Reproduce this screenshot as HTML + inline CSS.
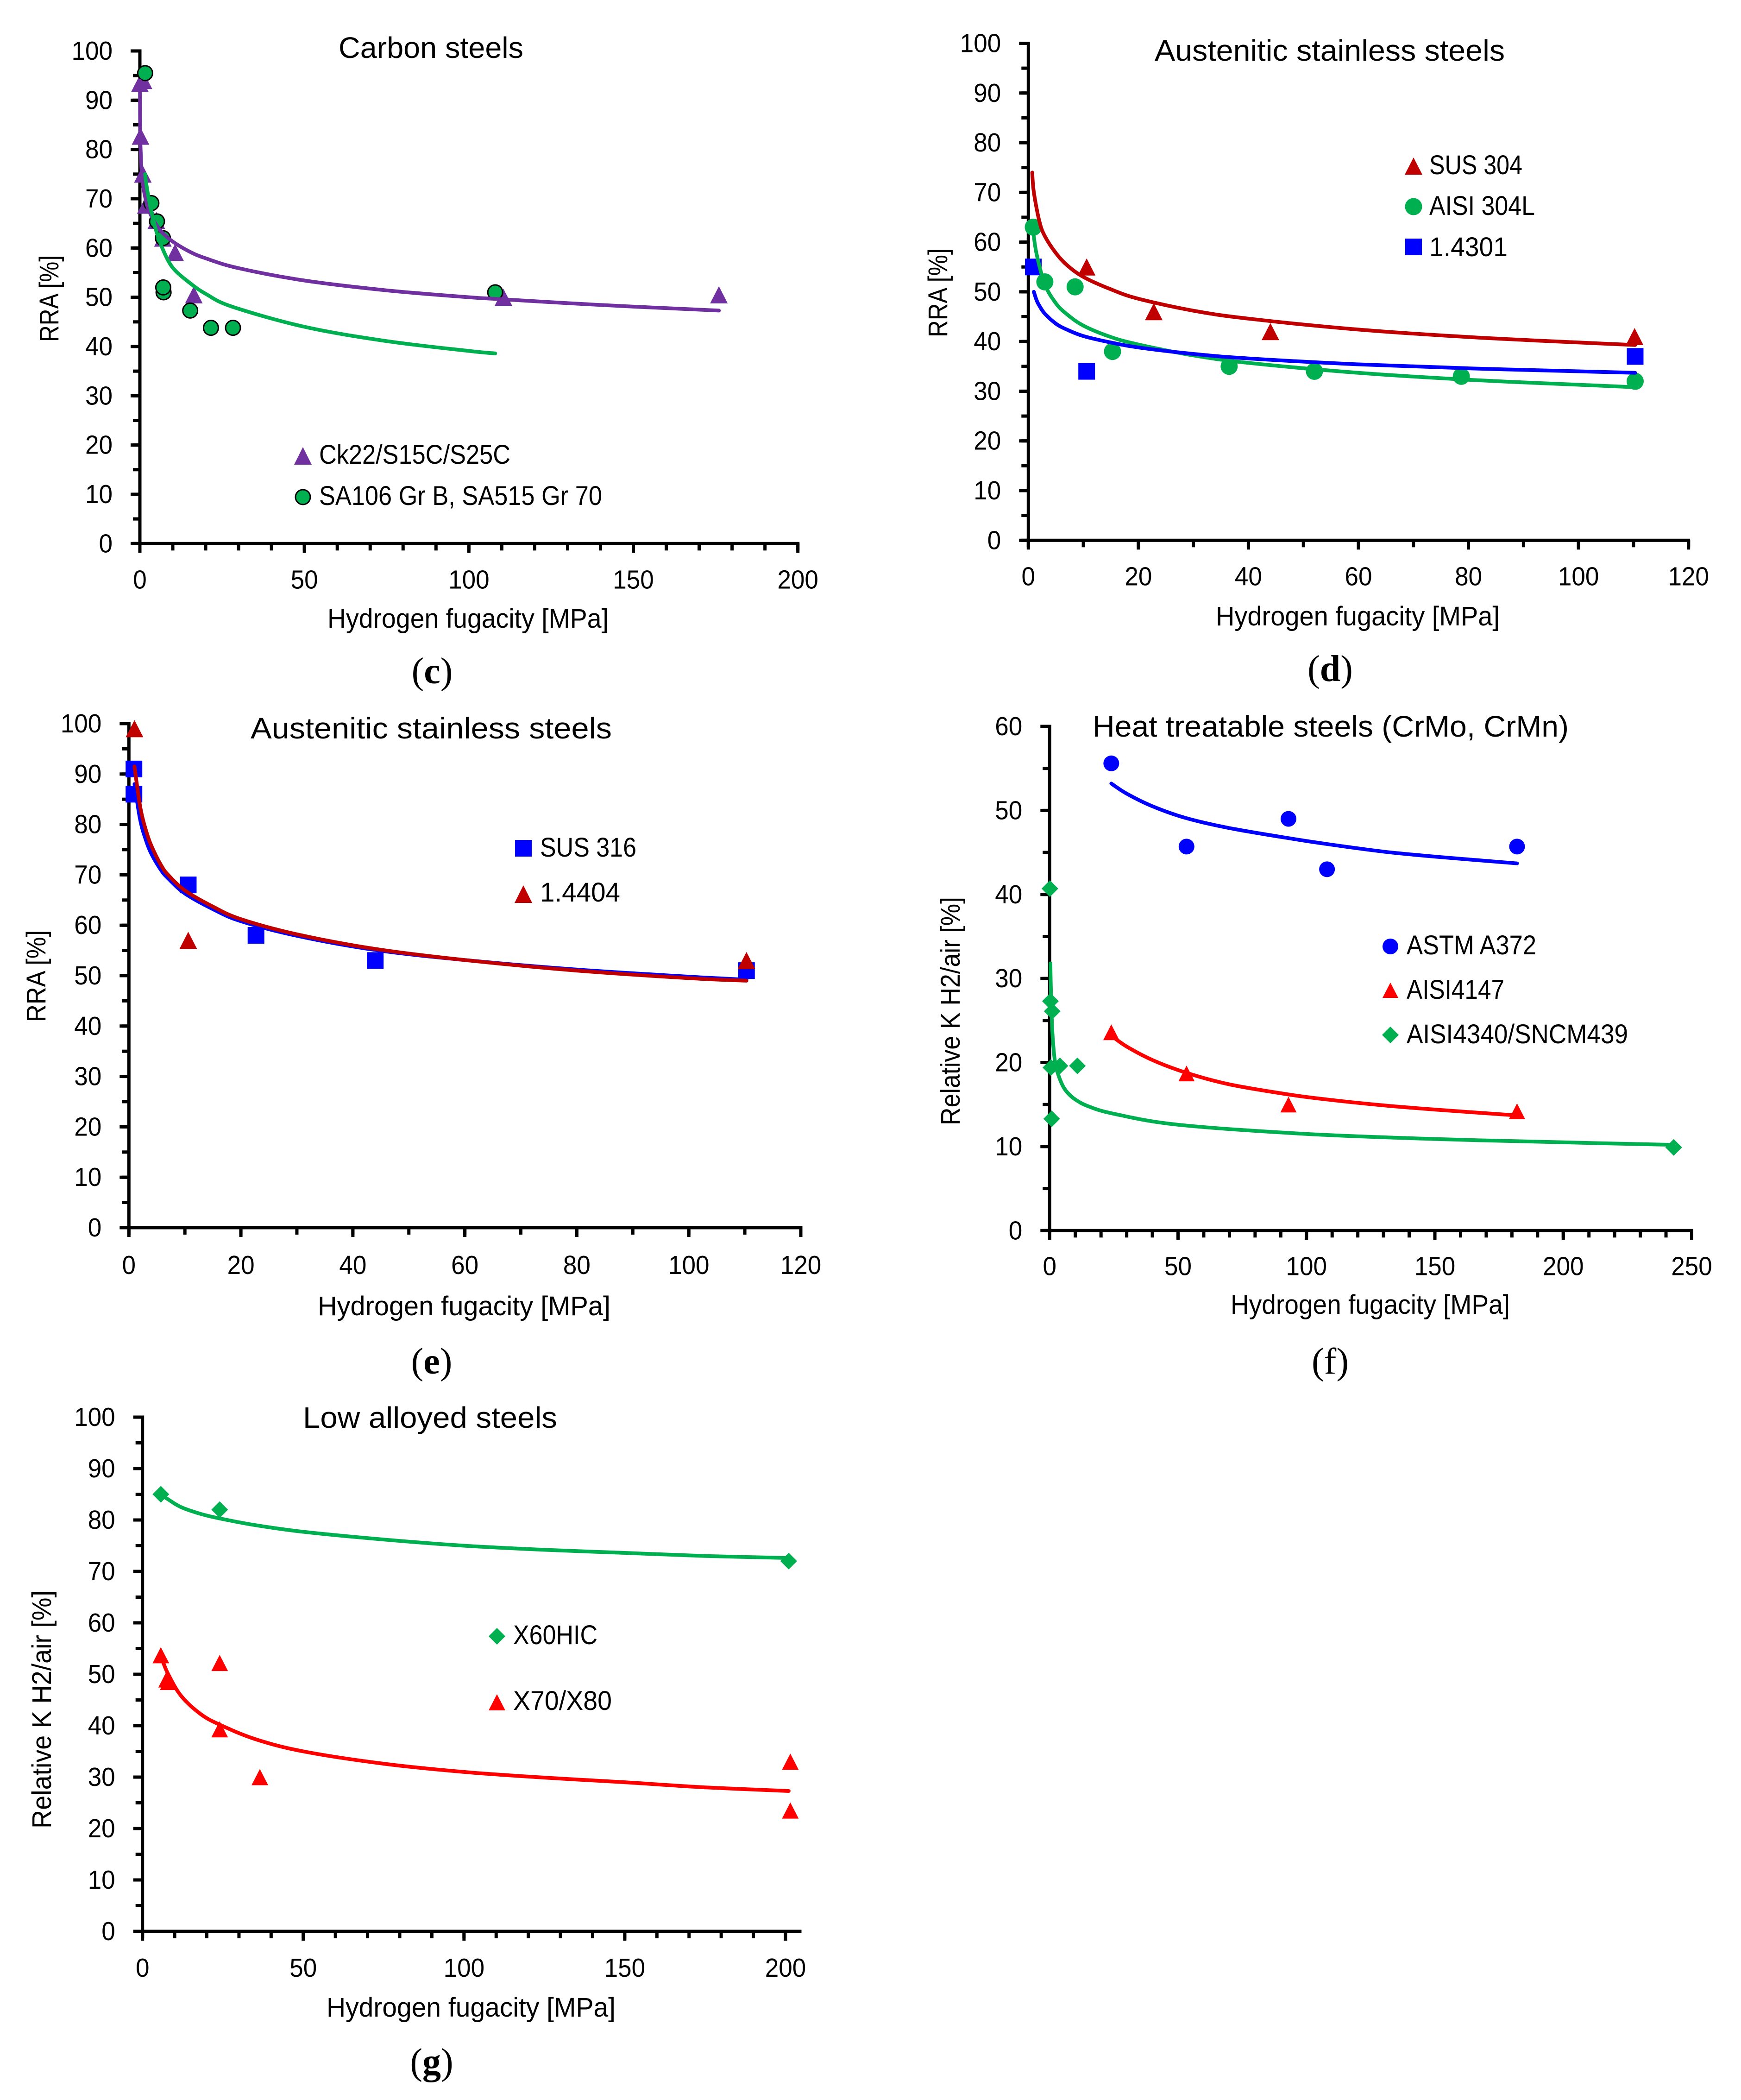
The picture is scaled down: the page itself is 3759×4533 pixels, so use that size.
<!DOCTYPE html>
<html lang="en">
<head>
<meta charset="utf-8">
<title>Hydrogen fugacity charts</title>
<style>
html,body{margin:0;padding:0;background:#fff;}
svg{display:block;}
text{font-family:"Liberation Sans",sans-serif;fill:#000;}
.ttl{font-size:64px;}
.lab{font-size:58px;}
.ylab{font-size:58px;}
.leg{font-size:58px;}
.cap{font-family:"Liberation Serif",serif;font-size:80px;text-anchor:middle;}
.cap tspan{font-family:"Liberation Serif",serif;font-weight:bold;}
</style>
</head>
<body>
<svg xmlns="http://www.w3.org/2000/svg" width="3759" height="4533" viewBox="0 0 3759 4533">
<rect x="0" y="0" width="3759" height="4533" fill="#ffffff"/>

<g id="panel-c">
  <text class="ttl" x="731" y="125" textLength="399" lengthAdjust="spacingAndGlyphs">Carbon steels</text>
  <text class="lab" x="707" y="1355" textLength="607" lengthAdjust="spacingAndGlyphs">Hydrogen fugacity [MPa]</text>
  <text class="ylab" transform="translate(126,738) rotate(-90)" textLength="187" lengthAdjust="spacingAndGlyphs">RRA [%]</text>
  <g>
    <polygon points="654,965 673,1003 635,1003" fill="#7030a0"/>
    <text class="leg" x="689" y="1001" textLength="413" lengthAdjust="spacingAndGlyphs">Ck22/S15C/S25C</text>
    <circle cx="654" cy="1073" r="16" fill="#00b050" stroke="#000" stroke-width="3"/>
    <text class="leg" x="689" y="1090" textLength="611" lengthAdjust="spacingAndGlyphs">SA106 Gr B, SA515 Gr 70</text>
  </g>
  <text class="cap" x="933" y="1475">(<tspan>c</tspan>)</text>
</g>

<g id="panel-d">
  <text class="ttl" x="2493" y="131" textLength="756" lengthAdjust="spacingAndGlyphs">Austenitic stainless steels</text>
  <text class="lab" x="2625" y="1350" textLength="613" lengthAdjust="spacingAndGlyphs">Hydrogen fugacity [MPa]</text>
  <text class="ylab" transform="translate(2045,728) rotate(-90)" textLength="192" lengthAdjust="spacingAndGlyphs">RRA [%]</text>
  <g>
    <polygon points="3052,340 3071,377 3033,377" fill="#c00000"/>
    <text class="leg" x="3086" y="376" textLength="201" lengthAdjust="spacingAndGlyphs">SUS 304</text>
    <circle cx="3052" cy="446" r="18.5" fill="#00b050"/>
    <text class="leg" x="3086" y="464" textLength="228" lengthAdjust="spacingAndGlyphs">AISI 304L</text>
    <rect x="3034" y="515" width="36" height="36" fill="#0000ff"/>
    <text class="leg" x="3086" y="553" textLength="169" lengthAdjust="spacingAndGlyphs">1.4301</text>
  </g>
  <text class="cap" x="2872" y="1470">(<tspan>d</tspan>)</text>
</g>

<g id="panel-e">
  <text class="ttl" x="541" y="1594" textLength="780" lengthAdjust="spacingAndGlyphs">Austenitic stainless steels</text>
  <text class="lab" x="686" y="2839" textLength="632" lengthAdjust="spacingAndGlyphs">Hydrogen fugacity [MPa]</text>
  <text class="ylab" transform="translate(98,2206) rotate(-90)" textLength="198" lengthAdjust="spacingAndGlyphs">RRA [%]</text>
  <g>
    <rect x="1112" y="1813" width="36" height="36" fill="#0000ff"/>
    <text class="leg" x="1166" y="1849" textLength="208" lengthAdjust="spacingAndGlyphs">SUS 316</text>
    <polygon points="1130,1911 1149,1949 1111,1949" fill="#c00000"/>
    <text class="leg" x="1166" y="1946" textLength="173" lengthAdjust="spacingAndGlyphs">1.4404</text>
  </g>
  <text class="cap" x="932" y="2965">(<tspan>e</tspan>)</text>
</g>

<g id="panel-f">
  <text class="ttl" x="2359" y="1590" textLength="1028" lengthAdjust="spacingAndGlyphs">Heat treatable steels (CrMo, CrMn)</text>
  <text class="lab" x="2657" y="2836" textLength="603" lengthAdjust="spacingAndGlyphs">Hydrogen fugacity [MPa]</text>
  <text class="ylab" transform="translate(2072,2429) rotate(-90)" textLength="493" lengthAdjust="spacingAndGlyphs">Relative K H2/air [%]</text>
  <g>
    <circle cx="3002" cy="2043" r="17" fill="#0000ff"/>
    <text class="leg" x="3037" y="2060" textLength="280" lengthAdjust="spacingAndGlyphs">ASTM A372</text>
    <polygon points="3002,2121 3019,2154 2985,2154" fill="#ff0000"/>
    <text class="leg" x="3037" y="2156" textLength="211" lengthAdjust="spacingAndGlyphs">AISI4147</text>
    <polygon points="3002,2216 3020,2234 3002,2252 2984,2234" fill="#00b050"/>
    <text class="leg" x="3037" y="2252" textLength="478" lengthAdjust="spacingAndGlyphs">AISI4340/SNCM439</text>
  </g>
  <text class="cap" x="2872" y="2965" style="font-weight:normal">(f)</text>
</g>

<g id="panel-g">
  <text class="ttl" x="654" y="3082" textLength="549" lengthAdjust="spacingAndGlyphs">Low alloyed steels</text>
  <text class="lab" x="705" y="4353" textLength="624" lengthAdjust="spacingAndGlyphs">Hydrogen fugacity [MPa]</text>
  <text class="ylab" transform="translate(110,3947) rotate(-90)" textLength="514" lengthAdjust="spacingAndGlyphs">Relative K H2/air [%]</text>
  <g>
    <polygon points="1073,3514 1091,3532 1073,3550 1055,3532" fill="#00b050"/>
    <text class="leg" x="1108" y="3549" textLength="182" lengthAdjust="spacingAndGlyphs">X60HIC</text>
    <polygon points="1073,3657 1091,3692 1055,3692" fill="#ff0000"/>
    <text class="leg" x="1108" y="3691" textLength="213" lengthAdjust="spacingAndGlyphs">X70/X80</text>
  </g>
  <text class="cap" x="932" y="4477">(<tspan>g</tspan>)</text>
</g>
</svg>

<script>
// ---------- tick values ----------
const yTicksPercent = [0,10,20,30,40,50,60,70,80,90,100];
const yTicksRelativeK = [0,10,20,30,40,50,60];
const xTicksC = [0,50,100,150,200];
const xTicksD = [0,20,40,60,80,100,120];
const xTicksE = [0,20,40,60,80,100,120];
const xTicksF = [0,50,100,150,200,250];
const xTicksG = [0,50,100,150,200];

// ---------- panel c: carbon steels ----------
const ck22X = [0.0,1.1,0.2,0.9,1.8,5,7,10.7,16.4,110.5,176];
const ck22Y = [93.4,94,82.7,75,68.7,65.6,62,59.1,50.5,50,50.5];
const sa106X = [1.6,3.5,5.2,7,7.2,7.1,15.3,21.6,28.3,108];
const sa106Y = [95.5,69.1,65.4,62,51,52,47.3,43.8,43.8,51];
const ck22FitX = [0.02,0.05,0.1,0.2,0.5,1,2,3,5,7,10,15,20,30,50,75,100,110,130,150,176];
const ck22FitY = [94,87.3,83.9,80.5,76,72.6,69.2,67.2,64.7,63,61.3,59.3,57.9,55.9,53.4,51.4,50,49.6,48.8,48.1,47.3];
const sa106FitX = [1.6,2,3,4,5,7,10,15,20,28,50,75,100,108];
const sa106FitY = [75,72.8,69,66,63.4,59.7,56,53,50.7,48.1,44,41.1,39.1,38.6];

// ---------- panel d: austenitic steels ----------
const sus304X = [10.6,22.8,44,110.2];
const sus304Y = [55,46,42,41];
const aisi304lX = [0.9,3,8.5,15.3,36.5,52,78.7,110.3];
const aisi304lY = [63,52,51,38,35,34,33,32];
const m14301X = [0.9,10.6,110.3];
const m14301Y = [55,34,37];
const sus304FitX = [0.7,1,2,3,5,7,10,15,20,30,40,60,80,100,110.3];
const sus304FitY = [74,70,64.2,61.2,57.8,55.4,53,50.5,48.6,46.2,44.6,42.4,40.9,39.8,39.3];
const aisi304lFitX = [0.9,1.5,3,5,7,10,15,20,30,40,60,80,100,110.3];
const aisi304lFitY = [62,57.6,51.5,47.7,45.5,43.2,40.9,39.4,37.2,35.7,33.7,32.3,31.3,30.8];
const m14301FitX = [1,1.5,2,3,5,7,10,15,20,30,40,60,80,100,110.3];
const m14301FitY = [50,48.3,47.2,45.6,43.6,42.4,41.1,39.8,38.8,37.5,36.6,35.4,34.6,34,33.7];

// ---------- panel e: austenitic steels ----------
const sus316X = [0.9,0.9,10.6,22.7,44,110.3];
const sus316Y = [91,86,68,58,53,51];
const m14404X = [1,10.6,110.3];
const m14404Y = [99,57,53];
const sus316FitX = [1,2,3,4,5.7,7,10,15,20,30,44,60,80,100,110.3];
const sus316FitY = [88,81,77,74.2,71,69.3,66.3,63.2,60.8,57.9,55.1,53.1,51.2,49.8,49.2];
const m14404FitX = [1,2,3,4,5.7,7,10,15,20,30,44,60,80,100,110.3];
const m14404FitY = [91.5,83.6,79,75.8,72,70,66.9,63.7,61.2,58.2,55.3,53.1,51,49.5,49];

// ---------- panel f: heat treatable steels ----------
const a372X = [24,53.3,93,108,182];
const a372Y = [55.6,45.7,49,43,45.7];
const aisi4147X = [24,53.3,93,182];
const aisi4147Y = [23.6,18.7,15,14.2];
const aisi4340X = [0.1,0.3,1,0.5,4,10.8,0.8,243];
const aisi4340Y = [40.7,27.3,26.1,19.4,19.6,19.6,13.3,9.9];
const a372FitX = [24,30,40,53,70,93,108,130,150,182];
const a372FitY = [53.2,52,50.5,49.1,47.9,46.7,46,45.1,44.5,43.7];
const aisi4147FitX = [24,30,40,53,70,93,108,130,150,182];
const aisi4147FitY = [23.2,21.9,20.3,18.8,17.4,16.2,15.6,14.9,14.4,13.7];
const aisi4340FitX = [0.3,0.5,1,1.5,2,3,5,7,10,15,25,50,100,150,200,243];
const aisi4340FitY = [31.8,28.5,24,21.8,20.3,18.9,17.3,16.4,15.6,14.8,13.9,12.6,11.5,10.9,10.5,10.2];

// ---------- panel g: low alloyed steels ----------
const x60X = [5.7,24,201];
const x60Y = [85,82,72];
const x70X = [5.7,7.5,8,24,24,36.5,201.5,201.5];
const x70Y = [53.7,49,48.5,52.2,39.3,30,33,23.5];
const x60FitX = [5.7,8,12,18,24,35,50,75,100,125,150,175,201];
const x60FitY = [85,84,82.5,81.2,80.3,79,77.7,76.2,75,74.2,73.6,73,72.6];
const x70FitX = [6,8,12,18,24,35,50,75,100,125,150,175,201];
const x70FitY = [53,50,45.8,42.3,40.2,37.4,35,32.6,31,29.9,29,28,27.3];

const SVGNS = 'http://www.w3.org/2000/svg';

function shape(parent, tag, attrs) {
  const el = document.createElementNS(SVGNS, tag);
  for (const k in attrs) el.setAttribute(k, attrs[k]);
  parent.appendChild(el);
  return el;
}

function makeMarker(parent, kind, cx, cy, m) {
  if (kind === 'triangle') {
    return shape(parent, 'polygon', {points: cx+','+(cy-m.h/2)+' '+(cx+m.w/2)+','+(cy+m.h/2)+' '+(cx-m.w/2)+','+(cy+m.h/2), fill: m.color});
  }
  if (kind === 'circle') {
    const a = {cx: cx, cy: cy, r: m.r, fill: m.color};
    if (m.stroke) { a.stroke = m.stroke; a['stroke-width'] = 3; }
    return shape(parent, 'circle', a);
  }
  if (kind === 'square') {
    return shape(parent, 'rect', {x: cx-m.s/2, y: cy-m.s/2, width: m.s, height: m.s, fill: m.color});
  }
  return shape(parent, 'polygon', {points: cx+','+(cy-m.d)+' '+(cx+m.d)+','+cy+' '+cx+','+(cy+m.d)+' '+(cx-m.d)+','+cy, fill: m.color});
}

function curvePath(px) {
  let d = 'M' + px[0][0] + ' ' + px[0][1];
  for (let i = 0; i < px.length - 1; i++) {
    const p0 = px[Math.max(i-1,0)], p1 = px[i], p2 = px[i+1], p3 = px[Math.min(i+2,px.length-1)];
    const c1x = p1[0] + (p2[0]-p0[0])/6, c1y = p1[1] + (p2[1]-p0[1])/6;
    const c2x = p2[0] - (p3[0]-p1[0])/6, c2y = p2[1] - (p3[1]-p1[1])/6;
    d += ' C' + c1x.toFixed(1)+' '+c1y.toFixed(1)+' '+c2x.toFixed(1)+' '+c2y.toFixed(1)+' '+p2[0].toFixed(1)+' '+p2[1].toFixed(1);
  }
  return d;
}

function drawPanel(cfg) {
  const root = document.getElementById(cfg.id);
  const sx = v => cfg.x0 + v * (cfg.xAt - cfg.x0) / cfg.xRef;
  const sy = v => cfg.y0 - v * (cfg.y0 - cfg.yTop) / cfg.yMax;
  const xLast = cfg.xEnd !== undefined ? cfg.xEnd : sx(cfg.xRef);
  const label = cfg.id.replace('panel-', '');

  const axes = shape(root, 'g', {});
  
  

  // minor ticks
  for (let v = 0; v <= cfg.yMax + 0.001; v += cfg.yMinor) {
    const tick = shape(axes, 'rect', {x: cfg.x0 - 15, y: sy(v) - 3.5, width: 15, height: 7, fill: '#000'});
    
    
  }
  for (let v = 0; sx(v) <= xLast + 1; v += cfg.xMinor) {
    const tick = shape(axes, 'rect', {x: sx(v) - 3.5, y: cfg.y0, width: 7, height: 15, fill: '#000'});
    
    
  }
  // major y ticks + labels
  cfg.yTicks.forEach(v => {
    const tick = shape(axes, 'rect', {x: cfg.x0 - 20, y: sy(v) - 3.5, width: 20, height: 7, fill: '#000'});
    
    
    const s = String(v);
    const t = shape(axes, 'text', {x: cfg.x0 - 59, y: sy(v) + 19, 'text-anchor': 'end', 'font-size': 57, textLength: s.length * 29.5, lengthAdjust: 'spacingAndGlyphs'});
    t.textContent = s;
    
    
  });
  // major x ticks + labels
  cfg.xTicks.forEach(v => {
    const tick = shape(axes, 'rect', {x: sx(v) - 3.5, y: cfg.y0, width: 7, height: 20, fill: '#000'});
    
    
    const s = String(v);
    const t = shape(axes, 'text', {x: sx(v), y: cfg.y0 + cfg.xLabelDy, 'text-anchor': 'middle', 'font-size': 57, textLength: s.length * 29.5, lengthAdjust: 'spacingAndGlyphs'});
    t.textContent = s;
    
    
  });
  // axis lines
  const yAxis = shape(axes, 'rect', {x: cfg.x0 - 3.5, y: cfg.yTop - 3.5, width: 7, height: cfg.y0 - cfg.yTop + 7, fill: '#000'});
  
  
  const xAxis = shape(axes, 'rect', {x: cfg.x0 - 3.5, y: cfg.y0 - 3.5, width: xLast - cfg.x0 + 7, height: 7, fill: '#000'});
  
  

  // scatter points
  cfg.series.forEach(s => {
    const g = shape(root, 'g', {});
    
    
    s.xs.forEach((xv, i) => {
      const mark = makeMarker(g, s.kind, sx(xv), sy(s.ys[i]), s.marker);
      
      
    });
  });
  // trend curves
  cfg.fits.forEach(f => {
    const px = f.xs.map((xv, i) => [sx(xv), sy(f.ys[i])]);
    const line = shape(root, 'path', {d: curvePath(px), fill: 'none', stroke: f.color, 'stroke-width': 8, 'stroke-linecap': 'round', 'stroke-linejoin': 'round'});
    
    
  });
}

const PURPLE = '#7030a0', GREEN = '#00b050', DARKRED = '#c00000', BLUE = '#0000ff', RED = '#ff0000';

drawPanel({
  id: 'panel-c', x0: 302, xAt: 1722.7, xRef: 200, y0: 1173.3, yTop: 110, yMax: 100,
  yMinor: 5, xMinor: 10, xLabelDy: 97, yTicks: yTicksPercent, xTicks: xTicksC,
  series: [
    {name: 'ck22', kind: 'triangle', xs: ck22X, ys: ck22Y, marker: {w: 38, h: 37, color: PURPLE}},
    {name: 'sa106', kind: 'circle', xs: sa106X, ys: sa106Y, marker: {r: 16, color: GREEN, stroke: '#000'}}
  ],
  fits: [
    {name: 'ck22', xs: ck22FitX, ys: ck22FitY, color: PURPLE},
    {name: 'sa106', xs: sa106FitX, ys: sa106FitY, color: GREEN}
  ]
});

drawPanel({
  id: 'panel-d', x0: 2220.3, xAt: 3645.7, xRef: 120, y0: 1166.3, yTop: 93.5, yMax: 100,
  yMinor: 5, xMinor: 10, xLabelDy: 97, yTicks: yTicksPercent, xTicks: xTicksD,
  series: [
    {name: 'sus304', kind: 'triangle', xs: sus304X, ys: sus304Y, marker: {w: 38, h: 37, color: DARKRED}},
    {name: 'aisi304l', kind: 'circle', xs: aisi304lX, ys: aisi304lY, marker: {r: 18.5, color: GREEN}},
    {name: '14301', kind: 'square', xs: m14301X, ys: m14301Y, marker: {s: 36, color: BLUE}}
  ],
  fits: [
    {name: 'sus304', xs: sus304FitX, ys: sus304FitY, color: DARKRED},
    {name: 'aisi304l', xs: aisi304lFitX, ys: aisi304lFitY, color: GREEN},
    {name: '14301', xs: m14301FitX, ys: m14301FitY, color: BLUE}
  ]
});

drawPanel({
  id: 'panel-e', x0: 278.3, xAt: 1729, xRef: 120, y0: 2650, yTop: 1562, yMax: 100,
  yMinor: 5, xMinor: 10, xLabelDy: 100, yTicks: yTicksPercent, xTicks: xTicksE,
  series: [
    {name: 'sus316', kind: 'square', xs: sus316X, ys: sus316Y, marker: {s: 36, color: BLUE}},
    {name: '14404', kind: 'triangle', xs: m14404X, ys: m14404Y, marker: {w: 38, h: 37, color: DARKRED}}
  ],
  fits: [
    {name: 'sus316', xs: sus316FitX, ys: sus316FitY, color: BLUE},
    {name: '14404', xs: m14404FitX, ys: m14404FitY, color: DARKRED}
  ]
});

drawPanel({
  id: 'panel-f', x0: 2266.3, xAt: 3652.5, xRef: 250, y0: 2656.3, yTop: 1568, yMax: 60,
  yMinor: 5, xMinor: 10, xLabelDy: 96, yTicks: yTicksRelativeK, xTicks: xTicksF,
  series: [
    {name: 'astm-a372', kind: 'circle', xs: a372X, ys: a372Y, marker: {r: 17, color: BLUE}},
    {name: 'aisi4147', kind: 'triangle', xs: aisi4147X, ys: aisi4147Y, marker: {w: 35, h: 34, color: RED}},
    {name: 'aisi4340', kind: 'diamond', xs: aisi4340X, ys: aisi4340Y, marker: {d: 18, color: GREEN}}
  ],
  fits: [
    {name: 'astm-a372', xs: a372FitX, ys: a372FitY, color: BLUE},
    {name: 'aisi4147', xs: aisi4147FitX, ys: aisi4147FitY, color: RED},
    {name: 'aisi4340', xs: aisi4340FitX, ys: aisi4340FitY, color: GREEN}
  ]
});

drawPanel({
  id: 'panel-g', x0: 307.7, xAt: 1696, xRef: 200, xEnd: 1727, y0: 4169, yTop: 3059, yMax: 100,
  yMinor: 5, xMinor: 10, xLabelDy: 98, yTicks: yTicksPercent, xTicks: xTicksG,
  series: [
    {name: 'x60hic', kind: 'diamond', xs: x60X, ys: x60Y, marker: {d: 18, color: GREEN}},
    {name: 'x70-x80', kind: 'triangle', xs: x70X, ys: x70Y, marker: {w: 36, h: 35, color: RED}}
  ],
  fits: [
    {name: 'x60hic', xs: x60FitX, ys: x60FitY, color: GREEN},
    {name: 'x70-x80', xs: x70FitX, ys: x70FitY, color: RED}
  ]
});
</script>
</body>
</html>
